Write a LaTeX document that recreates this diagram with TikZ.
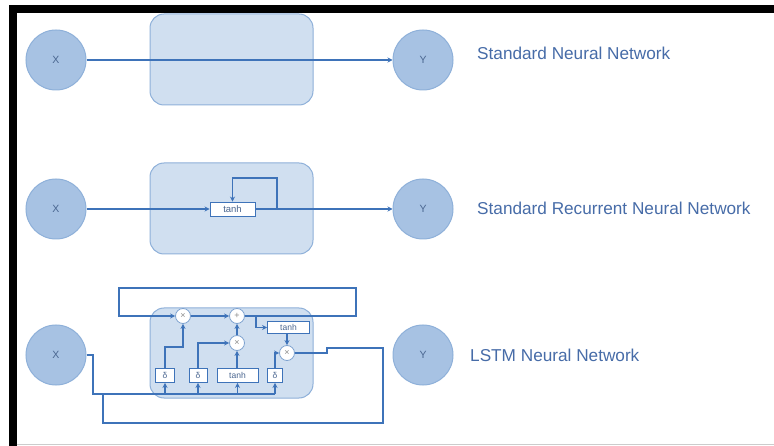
\documentclass[tikz,border=0pt]{standalone}
\usepackage{fontspec}
\setmainfont{Liberation Sans}
\usetikzlibrary{arrows.meta}

\definecolor{wire}{HTML}{3E73B9}
\definecolor{unitfill}{HTML}{A7C2E3}
\definecolor{unitedge}{HTML}{8EB0D9}
\definecolor{panelfill}{HTML}{D0DFF0}
\definecolor{paneledge}{HTML}{8EB0D9}
\definecolor{labeltext}{HTML}{476CA8}
\definecolor{unittext}{HTML}{4A6690}
\definecolor{opedge}{HTML}{7FA3D0}

\tikzset{
  unit/.style={circle, minimum size=60pt, inner sep=0pt, fill=unitfill, draw=unitedge,
    line width=1pt, text=unittext, font=\fontsize{10.5}{10.5}\selectfont},
  panel/.style={rectangle, rounded corners=14pt, fill=panelfill, draw=paneledge,
    line width=1pt, minimum width=163pt, minimum height=91pt, inner sep=0pt},
  wireline/.style={draw=wire, line width=1.6pt},
  flow/.style={wireline, -{Stealth[length=5pt,width=5pt]}},
  opnode/.style={circle, minimum size=15pt, inner sep=0pt, fill=white, draw=opedge,
    line width=0.8pt, text=black!45, font=\fontsize{9}{9}\selectfont},
  gatebox/.style={rectangle, minimum height=14pt, inner sep=0pt, fill=white, draw=wire,
    line width=0.9pt, text=unittext, font=\fontsize{8.5}{8.5}\selectfont},
  caption/.style={anchor=base west, inner sep=0pt, text=labeltext,
    font=\fontsize{17.2}{20}\selectfont}
}

\begin{document}
\begin{tikzpicture}[x=1pt,y=-1pt]
\useasboundingbox (0,0) rectangle (774,446);
\fill[white] (0,0) rectangle (774,446);
% frame
\fill[black] (9,5) rectangle (774,13);
\fill[black] (9,5) rectangle (16.5,446);
\draw[black!20, line width=1pt] (16.5,444.5) -- (774,444.5);

% ---------- standard neural network ----------
\node[panel] (p1) at (231.5,59.5) {};
\node[unit] (x1) at (56,60) {X};
\node[unit] (y1) at (423,60) {Y};
\draw[flow] (x1) -- (y1);
\node[caption] (c1) at (477,59.5) {Standard Neural Network};

% ---------- standard recurrent neural network ----------
\node[panel] (p2) at (231.5,208.5) {};
\node[unit] (x2) at (56,209) {X};
\node[unit] (y2) at (423,209) {Y};
\node[gatebox, minimum width=45pt, font=\fontsize{9.5}{9.5}\selectfont] (r2t) at (232.5,209) {tanh};
\coordinate (r2split) at (277,209);
\coordinate (r2top) at (277,178);
\draw[flow] (x2) -- (r2t);
\draw[flow] (r2t) -- (y2);
\draw[flow] (r2split) -- (r2top) -| (r2t.north);
\node[caption] (c2) at (477,214.5) {Standard Recurrent Neural Network};

% ---------- LSTM ----------
\node[panel, minimum height=90pt] (p3) at (231.5,353) {};
\node[unit] (x3) at (56,355) {X};
\node[unit] (y3) at (423,355) {Y};
\node[caption] (c3) at (470,361.5) {LSTM Neural Network};

% pointwise operations
\node[opnode] (m1) at (183,316) {×};
\node[opnode] (pl) at (237,316) {+};
\node[opnode] (m2) at (237,343) {×};
\node[opnode] (m3) at (287,353) {×};
\node[gatebox, minimum width=42pt, minimum height=12pt] (ct) at (288.5,327.5) {tanh};

% gate layers
\node[gatebox, minimum width=19pt] (g1) at (165,375.5) {δ};
\node[gatebox, minimum width=18pt] (g2) at (198,375.5) {δ};
\node[gatebox, minimum width=41pt] (g3) at (237.5,375.5) {tanh};
\node[gatebox, minimum width=15pt] (g4) at (275,375.5) {δ};

% cell state and its loop
\coordinate (loopNE) at (356,288);
\coordinate (loopNW) at (119,288);
\coordinate (br) at (256,316);
\draw[flow] (m1) -- (pl);
\draw[flow] (pl.east) -| (loopNE) -- (loopNW) |- (m1.west);
\draw[flow] (br) |- (ct.west);
\draw[flow] (ct.south -| m3) -- (m3);

% gate outputs
\draw[flow] (g3.north -| m2) -- (m2);
\draw[flow] (m2) -- (pl);
\draw[flow] (g2.north) |- (m2.west);
\coordinate (g1bend) at (165,347);
\draw[flow] (g1.north) -- (g1bend) -| (m1.south);
\draw[flow] (g4.north) |- (m3.west);

% input bus feeding the gates
\coordinate (inA) at (93,355);
\coordinate (inB) at (93,394);
\coordinate (busEnd) at (275,394);
\draw[wireline] (x3.east) -- (inA) -- (inB) -- (busEnd);
\foreach \g in {g1,g2,g3,g4}
  \draw[flow] (\g.south |- inB) -- (\g.south);

% hidden state fed back to the bus
\coordinate (h1) at (327,353);
\coordinate (h2) at (327,348);
\coordinate (h3) at (383,348);
\coordinate (h4) at (383,423);
\coordinate (h5) at (103,423);
\coordinate (h6) at (103,394);
\draw[wireline] (m3.east) -- (h1) -- (h2) -- (h3) -- (h4) -- (h5) -- (h6);
\end{tikzpicture}
\end{document}
